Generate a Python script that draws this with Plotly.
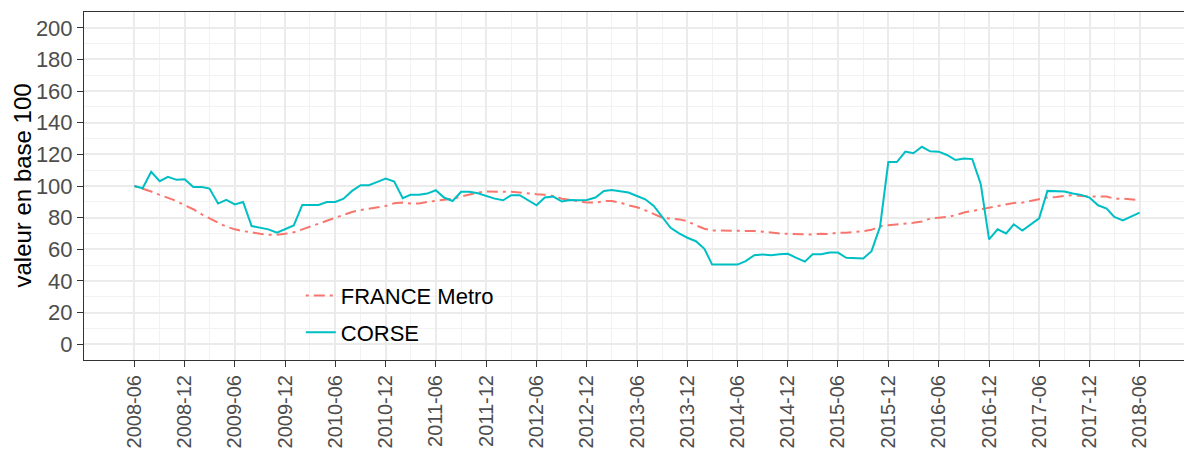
import pandas as pd
import plotly.graph_objects as go

months = pd.date_range("2008-06-01", "2018-06-01", freq="MS")

corse = [100, 98.6, 109, 103, 105.8, 103.9, 104.3, 99.4, 99.4, 98.4,
         88.9, 91.2, 88.4, 89.9, 74.7, 73.6, 72.6, 70.5, 72.6, 75.1,
         88, 88, 88, 89.9, 89.9, 92, 96.9, 100.5, 100.5, 102.6,
         104.7, 102.8, 92.3, 94.4, 94.4, 95.2, 97.3, 92.7, 90.5, 96.3,
         96.3, 95.4, 93.7, 92, 91, 94.2, 94.2, 91, 87.8, 92.7,
         93.3, 90.2, 91.2, 91, 91.2, 92.7, 96.9, 97.5, 96.9, 95.9,
         93.7, 91.6, 87.4, 80, 73.6, 70, 67.3, 65.1, 60.3, 50.3,
         50.3, 50.3, 50.3, 52.5, 56.3, 56.7, 56.2, 56.8, 57.1, 54.6,
         52.2, 56.9, 56.9, 58, 57.9, 54.6, 54.3, 54.2, 58.8, 74.3,
         115.1, 115.1, 121.8, 120.7, 124.8, 121.9, 121.7, 119.6, 116.4, 117.4,
         117, 101.1, 66.2, 72.6, 70, 75.7, 71.9, 75.7, 79.6, 96.9,
         96.9, 96.5, 95.2, 94.4, 92.7, 87.8, 85.7, 80.4, 78.3, 80.6,
         83.2]

france = [100, 98.4, 96.5, 94.4, 92.7, 90.5, 87.8, 85.3, 82.1, 79.4,
          76.8, 74.3, 72.6, 71.5, 70.5, 69.8, 69.2, 69.2, 69.8, 70.7,
          72.6, 74.3, 75.9, 77.8, 80, 81.9, 83.6, 84.8, 85.7, 86.3,
          87.4, 89.1, 89.5, 88.9, 88.9, 89.9, 90.5, 91.2, 92, 93.3,
          94.8, 95.9, 96.5, 96.5, 96.5, 96.3, 95.9, 95.2, 94.8, 94.4,
          93.7, 92, 91.2, 90.5, 89.5, 89.5, 90.5, 90.5, 89.5, 87.8,
          86.6, 84.6, 82.1, 80, 79.4, 78.9, 77.8, 75.1, 73, 71.9,
          71.9, 71.9, 71.9, 71.7, 71.5, 71.1, 70.5, 70, 69.8, 69.4,
          69.4, 69.4, 69.8, 69.6, 70.5, 70.5, 70.9, 71.5, 72.3, 74.5,
          75.2, 75.6, 76.2, 76.8, 77.6, 79.4, 80, 80.4, 81.5, 83.2,
          84.2, 85.3, 86.3, 87.4, 88.4, 89.3, 89.5, 90.5, 91.6, 92.7,
          93.1, 93.7, 94.2, 93.7, 93.3, 93.3, 93.3, 92, 92, 91.6,
          91]

tick_dates = months[::6]
tick_labels = [d.strftime("%Y-%m") for d in tick_dates]
minor_dates = months[3::6]
y_ticks = list(range(0, 201, 20))
y_title = "valeur en base 100"

fig = go.Figure()
fig.add_trace(go.Scatter(
    x=months, y=france, mode="lines", name="FRANCE Metro",
    line=dict(color="#F8766D", width=2, dash="3px,5px,11px,5px"),
    legendgroup="a"))
fig.add_trace(go.Scatter(
    x=months, y=corse, mode="lines", name="CORSE",
    line=dict(color="#00BFC4", width=2),
    legendgroup="b"))

fig.update_layout(
    width=1184, height=441,
    margin=dict(l=76, r=2, t=4, b=89),
    paper_bgcolor="white", plot_bgcolor="white",
    font=dict(family="Liberation Sans, Arial, sans-serif", size=22, color="#4D4D4D"),
    legend=dict(x=0.196, y=0.245, xanchor="left", yanchor="top",
                bgcolor="rgba(0,0,0,0)", font=dict(size=22, color="black"),
                tracegroupgap=5, itemwidth=30),
    showlegend=True,
)
fig.add_annotation(
    text=y_title, textangle=-90, showarrow=False,
    xref="paper", yref="paper", x=-0.0565, y=0.5,
    xanchor="center", yanchor="middle", borderpad=0,
    font=dict(size=24, color="black", family="Liberation Sans, Arial, sans-serif"),
)
fig.update_xaxes(
    type="date", automargin=False,
    range=[pd.Timestamp("2007-12-01"), pd.Timestamp("2018-12-01")],
    tickmode="array", tickvals=tick_dates, ticktext=tick_labels,
    tickangle=-90, ticks="outside", ticklen=6, tickcolor="#333333", tickwidth=1.2,
    showgrid=True, gridcolor="#EBEBEB", gridwidth=2,
    minor=dict(tickmode="array", tickvals=minor_dates, showgrid=True,
               gridcolor="#F2F2F2", gridwidth=1, ticks=""),
    showline=True, linecolor="#333333", linewidth=1, mirror=True,
    zeroline=False,
    tickfont=dict(size=20, color="#4D4D4D"),
)
fig.update_yaxes(
    automargin=False,
    range=[-10, 210],
    tickmode="array", tickvals=y_ticks,
    ticks="outside", ticklen=6, tickcolor="#333333", tickwidth=1.2,
    showgrid=True, gridcolor="#EBEBEB", gridwidth=2,
    minor=dict(dtick=10, tick0=0, showgrid=True, gridcolor="#F2F2F2", gridwidth=1, ticks=""),
    showline=True, linecolor="#333333", linewidth=1, mirror=True,
    zeroline=False,
    tickfont=dict(size=22, color="#4D4D4D"),
)

fig.write_html("out.html")
